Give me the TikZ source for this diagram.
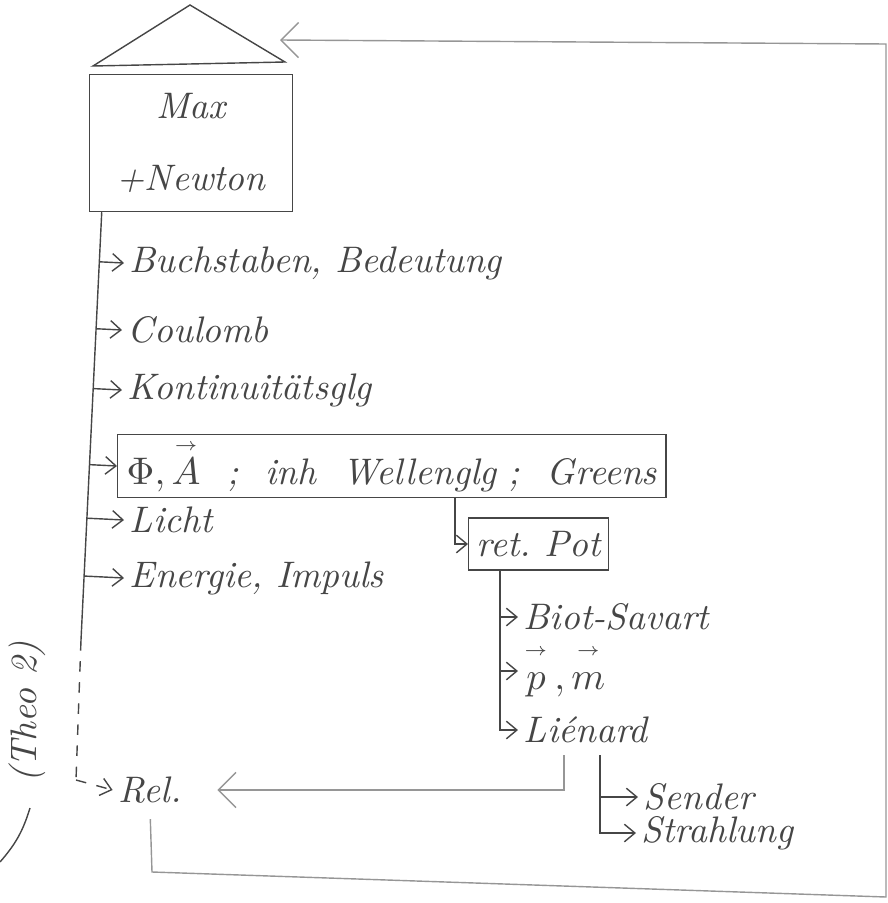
\documentclass[tikz,border=0pt]{standalone}
\usepackage{amsmath,amssymb}
\usepackage{tikz}
\usetikzlibrary{arrows.meta,positioning,calc}
\definecolor{inkgray}{RGB}{70,70,70}
\definecolor{faintgray}{RGB}{150,150,150}
\newcommand{\arrvec}[1]{\overset{\scriptscriptstyle\rightarrow}{\vphantom{A}#1}}

\begin{document}
\begin{tikzpicture}[x=0.01cm, y=-0.01cm,
  hand/.style={font=\fontsize{10.5}{12}\selectfont\itshape, text=inkgray, inner sep=1.5pt},
  item/.style={hand, anchor=west},
  frame/.style={hand, draw=inkgray, thin},
  line/.style={draw=inkgray, thin},
  arr/.style={line, -{Straight Barb[length=3pt,width=5pt]}},
  back/.style={draw=faintgray, thin, -{Straight Barb[length=5pt,width=10pt]}}]
\useasboundingbox (0,0) rectangle (888,903);

% house: roof and main box
\node[frame, minimum width=2.03cm, minimum height=1.37cm, align=center] (maxnew) at (191,143) {Max\\[3mm]+Newton};
\coordinate (roofL) at (93,66);
\coordinate (roofT) at (190,5);
\coordinate (roofR) at (285,62);
\draw[line] (roofL) -- (roofT) -- (roofR) -- cycle;

% left trunk
\coordinate (trtop) at ($(maxnew.south west)+(13,0)$);
\coordinate (trbot) at (81,640);
\coordinate (dsh) at (76,780);
\node[item] (buch)  at (124,263) {Buchstaben, Bedeutung};
\node[item] (coul)  at (122,330) {Coulomb};
\node[item] (kont)  at (122,390) {Kontinuitätsglg};
\node[frame, anchor=west, text width=5.3cm, inner xsep=0.09cm, minimum height=0.6cm] (phiA) at (117,466)
  {$\Phi,\arrvec{A}$\hfill;\hfill inh\hfill Wellenglg\ ;\hfill Greens};
\node[item] (licht) at (124,520) {Licht};
\node[item] (energ) at (124,578) {Energie, Impuls};
\node[hand] (rel) at (150,790) {Rel.};
\node[hand, rotate=90] (theo) at (27,712) {(Theo 2)};

\draw[line] (trtop) -- (trbot);
\foreach \n in {buch,coul,kont,phiA,licht,energ}
  \draw[arr] ($(trtop)!(\n.west)!(trbot)$) -- (\n.west);
\draw[line, dashed] (trbot) -- (dsh);
\draw[arr, dashed] (dsh) -- (rel.west);
\coordinate (br1) at (30,808);
\coordinate (br2) at (0,862);
\draw[line] (br1) to[bend left=12] (br2);

% retarded potentials
\node[frame, anchor=west, minimum width=1.4cm, minimum height=0.52cm] (retpot) at (468,544) {ret.\ Pot};
\coordinate (wg) at ($(phiA.south west)!0.615!(phiA.south east)$);
\draw[arr] (wg) |- (retpot.west);

\coordinate (rp) at ($(retpot.south west)+(32,0)$);
\node[item] (bio)  at (518,617) {Biot-Savart};
\node[item] (pm)   at (518,671) {$\arrvec{p}\,,\arrvec{m}$};
\node[item] (lien) at (518,730) {Liénard};
\foreach \n in {bio,pm,lien}
  \draw[arr] (rp) |- (\n.west);

\coordinate (l1) at ($(lien.south west)+(46,6)$);
\coordinate (l2) at ($(lien.south west)+(82,6)$);
\node[item] (send)   at (638,797) {Sender};
\node[item] (strahl) at (636,833) {Strahlung};
\draw[back, shorten >=0.3cm] (l1) |- (rel.east);
\draw[arr] (l2) |- (send.west);
\draw[arr] (l2) |- (strahl.west);

% feedback loop back to the roof
\coordinate (lb) at (152,872);
\coordinate (rb) at (886,897);
\coordinate (rt) at (886,44);
\coordinate (tip) at (280,40);
\draw[back, shorten <=0.1cm] (rel.south) -- (lb) -- (rb) -- (rt) -- (tip);
\end{tikzpicture}
\end{document}
